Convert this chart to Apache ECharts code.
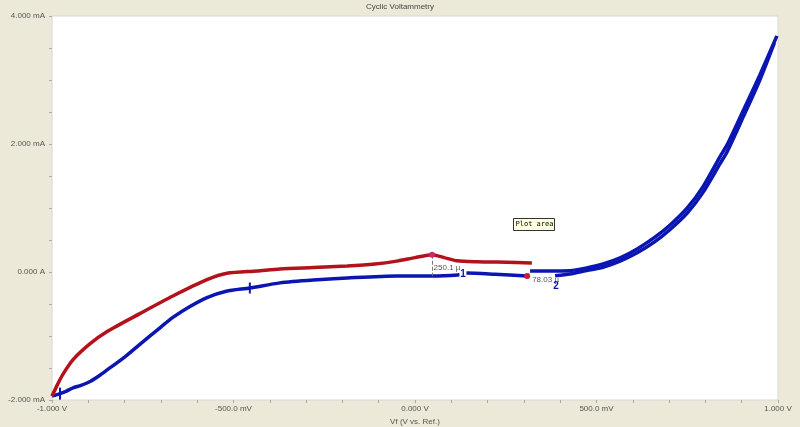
<!DOCTYPE html>
<html><head><meta charset="utf-8">
<script src="https://cdn.jsdelivr.net/npm/echarts@6/dist/echarts.min.js"></script>
<style>html,body{margin:0;padding:0;background:#ECE9D8;}#c{width:800px;height:427px;}</style>
</head><body><div id="c"></div>
<script>
// ---- data (V, mA) ----
const xTickLabels = ['-1.000 V', '-500.0 mV', '0.000 V', '500.0 mV', '1.000 V'];
const yTickLabels = ['-2.000 mA', '0.000 A', '2.000 mA', '4.000 mA'];

const redV = [-1.000, -0.985, -0.970, -0.942, -0.895, -0.848, -0.758, -0.667, -0.573, -0.518, -0.435, -0.372, -0.280, -0.187, -0.110, -0.050, 0.000, 0.047, 0.080, 0.116, 0.170, 0.226, 0.280, 0.322];
const redI = [-1.94, -1.76, -1.60, -1.37, -1.12, -0.93, -0.65, -0.375, -0.12, -0.02, 0.016, 0.047, 0.070, 0.094, 0.125, 0.170, 0.225, 0.270, 0.225, 0.175, 0.160, 0.156, 0.148, 0.140];

const blueLowV = [-1.000, -0.978, -0.960, -0.942, -0.920, -0.895, -0.870, -0.848, -0.800, -0.758, -0.700, -0.667, -0.620, -0.573, -0.520, -0.455, -0.372, -0.280, -0.187, -0.050, 0.047, 0.118, 0.132, 0.143, 0.220, 0.309];
const blueLowI = [-1.94, -1.90, -1.86, -1.81, -1.77, -1.71, -1.62, -1.53, -1.33, -1.13, -0.86, -0.71, -0.54, -0.40, -0.30, -0.25, -0.17, -0.125, -0.094, -0.063, -0.063, -0.047, -0.03, -0.016, -0.035, -0.063];

const blueUpV = [0.317, 0.370, 0.427, 0.470, 0.518, 0.565, 0.612, 0.660, 0.702, 0.750, 0.793, 0.840, 0.860, 0.904, 0.950, 0.997];
const blueUpI = [0.016, 0.016, 0.020, 0.060, 0.125, 0.220, 0.360, 0.540, 0.730, 1.000, 1.330, 1.800, 1.990, 2.520, 3.080, 3.690];

const blueRetV = [0.386, 0.427, 0.470, 0.518, 0.565, 0.612, 0.660, 0.702, 0.750, 0.793, 0.840, 0.860, 0.904, 0.950, 0.990];
const blueRetI = [-0.060, -0.030, 0.020, 0.075, 0.170, 0.300, 0.470, 0.660, 0.920, 1.240, 1.690, 1.880, 2.420, 3.000, 3.580];

const peakLabel = '250.1 µ';
const valleyLabel = '78.03 µ';

const zip = (a, b) => a.map((v, i) => [v, b[i]]);
const RED = '#b3121c', BLUE = '#0b16b2';
const FONT = 'Liberation Sans, Arial, sans-serif';
const peakIdx = redI.indexOf(Math.max(...redI));
const bluePeakIdx = blueLowV.indexOf(redV[peakIdx]);
const cur1Idx = blueLowV.indexOf(0.132);
const endIdx = blueLowV.length - 1;
const cross1 = blueLowV.indexOf(-0.978), cross2 = blueLowV.indexOf(-0.455);

const chart = echarts.init(document.getElementById('c'), null, {renderer: 'canvas'});
const lab = {color: '#555', fontSize: 8, fontFamily: FONT};
const hidden = {symbol: 'circle', symbolSize: 1, itemStyle: {color: 'rgba(0,0,0,0)'}};
const lineCommon = {type: 'line', smooth: 0.25, showSymbol: false, z: 2};
chart.setOption({
  backgroundColor: '#ECE9D8',
  animation: false,
  title: {text: 'Cyclic Voltammetry', left: 'center', top: -2,
    textStyle: {color: '#444', fontSize: 8, fontWeight: 'normal', fontFamily: FONT}},
  grid: {left: 52, right: 22, top: 16, bottom: 27, show: true, containLabel: false, outerBoundsMode: 'none',
    backgroundColor: '#fff', borderColor: '#d8d8d8', borderWidth: 1},
  xAxis: {type: 'value', min: -1, max: 1, interval: 0.5,
    name: 'Vf (V vs. Ref.)', nameLocation: 'middle', nameGap: 16,
    nameTextStyle: lab,
    axisLine: {show: false, onZero: false},
    axisTick: {show: true, length: 3, lineStyle: {color: '#aaa'}},
    minorTick: {show: true, splitNumber: 5, length: 3, lineStyle: {color: '#aaa'}},
    splitLine: {show: false},
    axisLabel: Object.assign({margin: 5, formatter: v => xTickLabels[Math.round((v + 1) / 0.5)]}, lab)},
  yAxis: {type: 'value', min: -2, max: 4, interval: 2,
    name: 'Im (A)', nameLocation: 'middle', nameGap: 46, nameRotate: 90,
    nameTextStyle: lab,
    axisLine: {show: false, onZero: false},
    axisTick: {show: true, length: 3, lineStyle: {color: '#aaa'}},
    minorTick: {show: true, splitNumber: 4, length: 3, lineStyle: {color: '#aaa'}},
    splitLine: {show: false},
    axisLabel: Object.assign({margin: 7, formatter: v => yTickLabels[Math.round((v + 2) / 2)]}, lab)},
  series: [
    Object.assign({}, lineCommon, {data: zip(redV, redI), z: 3,
      lineStyle: {color: RED, width: 3.5},
      markLine: {silent: true, symbol: 'none', label: {show: false},
        lineStyle: {color: '#777', type: 'dashed', width: 1},
        data: [[{coord: [redV[peakIdx], redI[peakIdx]]}, {coord: [redV[peakIdx], blueLowI[bluePeakIdx]]}]]},
      markPoint: {silent: true, data: [
        {coord: [redV[peakIdx], redI[peakIdx]], symbol: 'circle', symbolSize: 6, itemStyle: {color: '#c0306a'}, label: {show: false}},
        Object.assign({coord: [redV[peakIdx], (redI[peakIdx] + blueLowI[bluePeakIdx]) / 2],
          label: {show: true, formatter: peakLabel, position: 'right', offset: [-4, 2], color: '#555', fontSize: 8, fontFamily: FONT}}, hidden)
      ]}}),
    Object.assign({}, lineCommon, {data: zip(blueLowV, blueLowI),
      lineStyle: {color: BLUE, width: 3.5},
      markPoint: {silent: true, data: [
        {coord: [blueLowV[cross1], blueLowI[cross1]], symbol: 'rect', symbolSize: [2, 12], itemStyle: {color: BLUE}, label: {show: false}},
        {coord: [blueLowV[cross2], blueLowI[cross2]], symbol: 'rect', symbolSize: [2, 11], itemStyle: {color: BLUE}, label: {show: false}},
        {coord: [blueLowV[cur1Idx], blueLowI[cur1Idx]], symbol: 'rect', symbolSize: [7, 9], itemStyle: {color: '#fff'},
          label: {show: true, position: 'inside', formatter: '1', color: BLUE, fontSize: 10, fontWeight: 'bold', fontFamily: FONT}},
        {coord: [blueLowV[endIdx], blueLowI[endIdx]], symbol: 'circle', symbolSize: 6, itemStyle: {color: '#d01838'},
          label: {show: true, formatter: valleyLabel, position: 'right', offset: [-3, 4], color: '#555', fontSize: 8, fontFamily: FONT}}
      ]}}),
    Object.assign({}, lineCommon, {data: zip(blueUpV, blueUpI),
      lineStyle: {color: BLUE, width: 3.5}}),
    Object.assign({}, lineCommon, {data: zip(blueRetV, blueRetI),
      lineStyle: {color: BLUE, width: 3.5},
      markPoint: {silent: true, data: [
        Object.assign({coord: [blueRetV[0], blueRetI[0]],
          label: {show: true, formatter: '2', position: 'bottom', offset: [1, 0], color: BLUE, fontSize: 10, fontWeight: 'bold', fontFamily: FONT}}, hidden)
      ]}})
  ],
  graphic: [{
    type: 'group', left: 513, top: 218, children: [
      {type: 'rect', shape: {x: 0, y: 0, width: 41, height: 12}, style: {fill: '#ffffe1', stroke: '#333', lineWidth: 1}},
      {type: 'text', left: 2, top: 2, style: {text: 'Plot area', fill: '#000', font: '7px "DejaVu Sans Mono", monospace'}}
    ]
  }]
});
</script></body></html>
